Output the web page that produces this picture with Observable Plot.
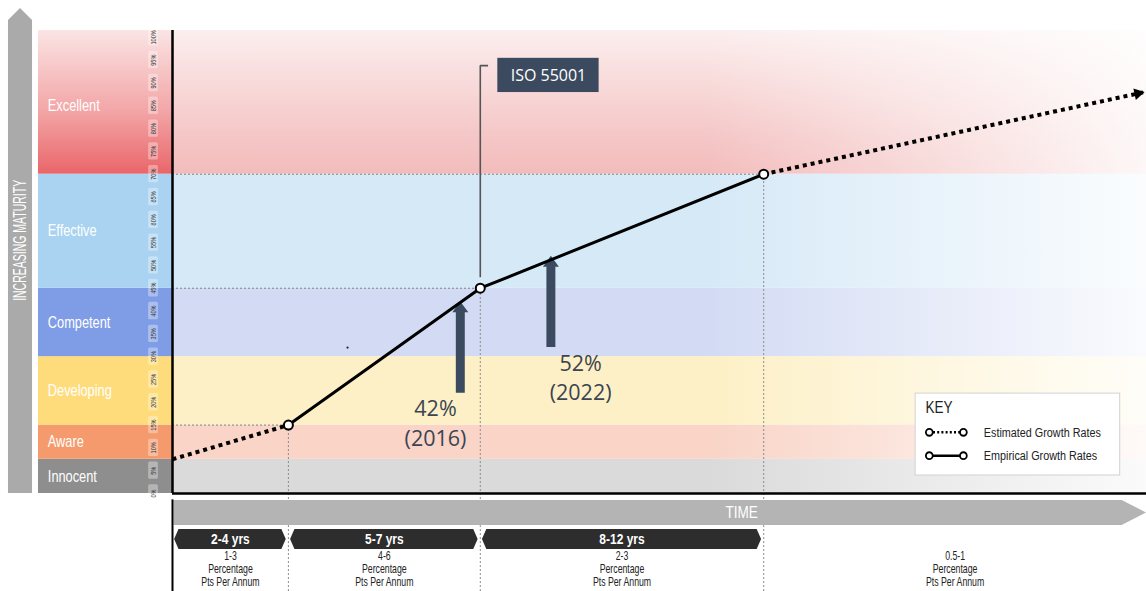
<!DOCTYPE html>
<html>
<head>
<meta charset="utf-8">
<script src="https://cdn.jsdelivr.net/npm/d3@7"></script>
<script src="https://cdn.jsdelivr.net/npm/@observablehq/plot@0.6"></script>
<style>
  html, body { margin: 0; padding: 0; background: #fff; }
  #chart svg { display: block; }
</style>
</head>
<body>
<div id="chart"></div>
<script>
// Maturity bands, in percent of full maturity
const bandNames = ["Innocent", "Aware", "Developing", "Competent", "Effective", "Excellent"];
const bandFloor = [0, 7.5, 15, 30, 45, 70];
const bandCeil = [7.5, 15, 30, 45, 70, 100];

// Milestones on the (schematic) time axis and the maturity reached there
const milestoneTime = [0, 11.9, 31.6, 60.7];
const milestoneMaturity = [7.5, 15, 45, 70];
const projectedTime = 99.8;
const projectedMaturity = 88;

// Stages between milestones
const stageYears = ["2-4 yrs", "5-7 yrs", "8-12 yrs", ""];
const stageRates = ["1-3", "4-6", "2-3", "0.5-1"];

// Percentage ticks down the maturity column
const percentTicks = d3.range(0, 101, 5);

// Measured maturity call-outs
const calloutValue = [42, 52];
const calloutYear = [2016, 2022];
const calloutTime = [29.6, 38.9];

const standardName = "ISO 55001";

// ---- styling ----
const columnColors = ["#8e8e8e", "#f59a6d", "#fedc7c", "#7f9de6", "#a9d3f1", "url(#col-excellent)"];
const areaColors = ["#dadada", "#f9d4c7", "#fdf0c6", "#d3dbf4", "#d6e9f7", "#f3bcbc"];
const ink = "#3b4a5e";
// Condensed label faces: Liberation Sans squeezed horizontally after rendering.
// Each family string maps to its own horizontal squeeze.
const narrow = "'Liberation Sans', Arial, sans-serif";
const narrower = "'Liberation Sans', Arial, Helvetica, sans-serif";
const narrowest = "'Liberation Sans', Helvetica, sans-serif";
const squeezes = new Map([[narrow, 0.8], [narrower, 0.7], [narrowest, 0.6]]);
const humanist = "'Open Sans', 'Noto Sans', sans-serif";

// ---- layout, in axis units (x: schematic time 0–100, y: maturity %) ----
const TOP = 101.5, BOTTOM = -21.5;
const arrowX1 = -16.84, arrowX2 = -14.37;
const columnX1 = -13.76, labelX = -12.8, tickX = -1.95;
const timeBar = {y1: -7.0, y2: -1.53};
const stageBar = {y1: -12.3, y2: -7.9, inset: 0.22, tip: 0.45};
const stageTextY = [-13.8, -16.6, -19.4];
const keyBox = {x1: 76.3, x2: 97.3, y1: 3.95, y2: 21.9};

const bands = bandNames.map((name, i) => ({
  name, i, floor: bandFloor[i], ceil: i === bandNames.length - 1 ? TOP : bandCeil[i],
  mid: (bandFloor[i] + bandCeil[i]) / 2
}));
const milestones = milestoneTime.map((t, i) => ({t, m: milestoneMaturity[i]}));
const projected = {t: projectedTime, m: projectedMaturity};
const stageBounds = [...milestoneTime, 100];
const stages = stageRates.map((rate, i) => ({
  i, years: stageYears[i], rate, x1: stageBounds[i], x2: stageBounds[i + 1],
  xm: (stageBounds[i] + stageBounds[i + 1]) / 2
}));
const callouts = calloutValue.map((v, i) => ({v, year: calloutYear[i], t: calloutTime[i]}));

function gradients() {
  const defs = document.createElementNS("http://www.w3.org/2000/svg", "defs");
  defs.innerHTML = areaColors.map((c, i) => `
    <linearGradient id="fade-${i}" x1="0" x2="1" y1="0" y2="0">
      <stop offset="0" stop-color="${c}"/>
      <stop offset="0.55" stop-color="${c}"/>
      <stop offset="1" stop-color="${c}" stop-opacity="0.12"/>
    </linearGradient>`).join("") + `
    <linearGradient id="sky" x1="0" x2="0" y1="0" y2="1">
      <stop offset="0" stop-color="#fff" stop-opacity="0.75"/>
      <stop offset="0.75" stop-color="#fff" stop-opacity="0.15"/>
      <stop offset="1" stop-color="#fff" stop-opacity="0"/>
    </linearGradient>
    <linearGradient id="col-excellent" x1="0" x2="0" y1="0" y2="1">
      <stop offset="0" stop-color="#fbe4e4"/>
      <stop offset="0.55" stop-color="#f3a7a8"/>
      <stop offset="1" stop-color="#e9666a"/>
    </linearGradient>`;
  return defs;
}

// Arrow polygon (pointing up) as a series of x1/x2 spans along y
function calloutShape(c, i) {
  const base = c.v - 20, head = c.v - 2.4, sw = 0.46, hw = 0.82;
  return [
    {k: i, y: base, x1: c.t - sw, x2: c.t + sw},
    {k: i, y: head, x1: c.t - sw, x2: c.t + sw},
    {k: i, y: head, x1: c.t - hw, x2: c.t + hw},
    {k: i, y: c.v, x1: c.t, x2: c.t}
  ];
}
const calloutLabelShift = [-2.6, 3.0];

function stageShape(s) {
  const a = s.x1 + stageBar.inset, b = s.x2 - stageBar.inset, ym = (stageBar.y1 + stageBar.y2) / 2;
  return [
    {k: s.i, x: a, y1: ym, y2: ym},
    {k: s.i, x: a + stageBar.tip, y1: stageBar.y1, y2: stageBar.y2},
    {k: s.i, x: b - stageBar.tip, y1: stageBar.y1, y2: stageBar.y2},
    {k: s.i, x: b, y1: ym, y2: ym}
  ];
}

const marks = [
  gradients,

  // chart-area bands fading to the right
  ...bands.map(b => Plot.rect([b], {x1: () => 0, x2: () => 100, y1: "floor", y2: "ceil", fill: `url(#fade-${b.i})`})),
  Plot.rect([bands[5]], {x1: () => 0, x2: () => 100, y1: "floor", y2: "ceil", fill: "url(#sky)"}),

  // left maturity column
  Plot.areaY([
    {x: arrowX1, y1: 0, y2: 103.7}, {x: (arrowX1 + arrowX2) / 2, y1: 0, y2: 106.3}, {x: arrowX2, y1: 0, y2: 103.7}
  ], {x: "x", y1: "y1", y2: "y2", fill: "#aaaaaa", curve: "linear"}),
  Plot.text(["INCREASING MATURITY"], {x: () => (arrowX1 + arrowX2) / 2, y: () => 55.5, text: d => d, rotate: -90,
    fill: "white", fontSize: 17.5, fontFamily: narrowest}),
  ...bands.map(b => Plot.rect([b], {x1: () => columnX1, x2: () => 0, y1: "floor", y2: "ceil", fill: columnColors[b.i]})),
  Plot.text(bands, {x: () => labelX, y: "mid", text: "name", textAnchor: "start", fill: "white",
    fontSize: 16, fontFamily: narrow}),
  Plot.rect(percentTicks, {x1: () => tickX - 0.5, x2: () => tickX + 0.5, y1: d => d - 1.9, y2: d => d + 1.9,
    fill: "white", fillOpacity: 0.35, rx: 1.5}),
  Plot.text(percentTicks, {x: () => tickX, y: d => d, text: d => `${d}%`, rotate: -90, fontSize: 8,
    fill: "#333", fontFamily: narrower}),

  // guide lines from each milestone to the axes
  Plot.ruleY(milestones.slice(1), {y: "m", x1: () => 0, x2: "t", stroke: "#808080", strokeWidth: 1, strokeDasharray: "2,2"}),
  Plot.ruleX(milestones.slice(1), {x: "t", y1: () => BOTTOM, y2: "m", stroke: "#8a8a8a", strokeWidth: 1, strokeDasharray: "2,2"}),

  // standard annotation
  Plot.line([
    {x: milestoneTime[2], y: 47.4}, {x: milestoneTime[2], y: 93.8}, {x: milestoneTime[2] + 0.8, y: 93.8}
  ], {x: "x", y: "y", stroke: "#555", strokeWidth: 1.6, curve: "linear", strokeLinecap: "butt", strokeLinejoin: "miter"}),
  Plot.rect([standardName], {x1: () => 33.4, x2: () => 43.8, y1: () => 87.9, y2: () => 95.4, fill: ink}),
  Plot.text([standardName], {x: () => 38.6, y: () => 91.65, text: d => d, fill: "white", fontSize: 16, fontFamily: humanist}),

  // measured call-outs
  Plot.areaX(callouts.flatMap(calloutShape), {y: "y", x1: "x1", x2: "x2", z: "k", fill: ink, curve: "linear"}),
  Plot.text(callouts, {x: (d, i) => d.t + calloutLabelShift[i], y: d => d.v - 23.6, text: d => `${d.v}%`,
    fill: "#3b4452", fontSize: 21.5, fontFamily: humanist}),
  Plot.text(callouts, {x: (d, i) => d.t + calloutLabelShift[i], y: d => d.v - 30.1, text: d => `(${d.year})`,
    fill: "#3b4452", fontSize: 21.5, fontFamily: humanist}),

  // growth path: estimated (dotted) and empirical (solid)
  Plot.line(milestones.slice(0, 2), {x: "t", y: "m", stroke: "black", strokeWidth: 4, strokeDasharray: "4,4", strokeLinecap: "butt"}),
  Plot.line([milestones[3], projected], {x: "t", y: "m", stroke: "black", strokeWidth: 4, strokeDasharray: "4,4", strokeLinecap: "butt"}),
  Plot.line(milestones.slice(1), {x: "t", y: "m", stroke: "black", strokeWidth: 3}),
  Plot.dot([projected], {x: "t", y: "m", symbol: "triangle", r: 4.4, fill: "black", stroke: "none", rotate: 78, dx: -6.6, dy: 1.4}),
  Plot.dot(milestones.slice(1), {x: "t", y: "m", r: 4.5, fill: "white", stroke: "black", strokeWidth: 2}),
  Plot.dot([{t: 17.97, m: 32}], {x: "t", y: "m", r: 1.1, fill: "#222", stroke: "none"}),

  // key
  Plot.rect([keyBox], {x1: "x1", x2: "x2", y1: "y1", y2: "y2", fill: "white", stroke: "#d2d2d2", strokeWidth: 1}),
  Plot.text(["KEY"], {x: () => 77.3, y: () => 18.9, text: d => d, textAnchor: "start", fontSize: 17, fill: "#222", fontFamily: narrow}),
  Plot.ruleY([13.4], {x1: () => 77.7, x2: () => 81.2, stroke: "black", strokeWidth: 2.5, strokeDasharray: "2,2.2"}),
  Plot.ruleY([8.3], {x1: () => 77.7, x2: () => 81.2, stroke: "black", strokeWidth: 2.5}),
  Plot.dot([[77.7, 13.4], [81.2, 13.4], [77.7, 8.3], [81.2, 8.3]], {x: d => d[0], y: d => d[1], r: 3.4,
    fill: "white", stroke: "black", strokeWidth: 1.8}),
  Plot.text(["Estimated Growth Rates", "Empirical Growth Rates"], {x: () => 83.3, y: (d, i) => [13.4, 8.3][i],
    text: d => d, textAnchor: "start", fontSize: 13.5, fill: "#222", fontFamily: narrow}),

  // time axis ribbon
  Plot.areaY([
    {x: 0.15, y1: timeBar.y1, y2: timeBar.y2}, {x: 97.5, y1: timeBar.y1, y2: timeBar.y2},
    {x: 100, y1: (timeBar.y1 + timeBar.y2) / 2, y2: (timeBar.y1 + timeBar.y2) / 2}
  ], {x: "x", y1: "y1", y2: "y2", fill: "#b4b4b4", curve: "linear"}),
  Plot.text(["TIME"], {x: () => milestoneTime[3] - 0.6, y: () => (timeBar.y1 + timeBar.y2) / 2, text: d => d,
    textAnchor: "end", fill: "white", fontSize: 17, fontFamily: narrow}),
  Plot.areaY(stages.filter(s => s.years).flatMap(stageShape), {x: "x", y1: "y1", y2: "y2", z: "k", fill: "#2d2d2d", curve: "linear"}),
  Plot.text(stages.filter(s => s.years), {x: "xm", y: () => (stageBar.y1 + stageBar.y2) / 2, text: "years",
    fill: "white", fontSize: 15, fontWeight: "bold", fontFamily: narrow}),
  Plot.text(stages, {x: "xm", y: () => stageTextY[0], text: "rate", fill: "#222", fontSize: 12.5, fontFamily: narrower}),
  Plot.text(stages, {x: "xm", y: () => stageTextY[1], text: () => "Percentage", fill: "#222", fontSize: 12.5, fontFamily: narrower}),
  Plot.text(stages, {x: "xm", y: () => stageTextY[2], text: () => "Pts Per Annum", fill: "#222", fontSize: 12.5, fontFamily: narrower}),

  // frame
  Plot.ruleX([0], {y1: () => 0, y2: () => TOP, stroke: "black", strokeWidth: 2.5}),
  Plot.ruleY([0], {x1: () => 0, x2: () => 100, stroke: "black", strokeWidth: 2.5}),
  Plot.ruleX([0], {y1: () => BOTTOM, y2: () => -1.4, stroke: "black", strokeWidth: 2})
];

const chart = Plot.plot({
  width: 1146,
  height: 591,
  margin: 0,
  style: {background: "white", overflow: "visible"},
  x: {domain: [0, 100], range: [172, 1146], axis: null},
  y: {domain: [0, TOP], range: [493, 30], axis: null},
  marks
});

// squeeze the condensed labels horizontally; each text is drawn at its own local origin
chart.querySelectorAll("g[font-family]").forEach(g => {
  const s = squeezes.get(g.getAttribute("font-family"));
  if (!s) return;
  g.querySelectorAll("text").forEach(t => {
    const base = t.getAttribute("transform") || "";
    t.setAttribute("transform", `${base} scale(${s},1)`.trim());
  });
});

document.getElementById("chart").append(chart);
</script>
</body>
</html>
